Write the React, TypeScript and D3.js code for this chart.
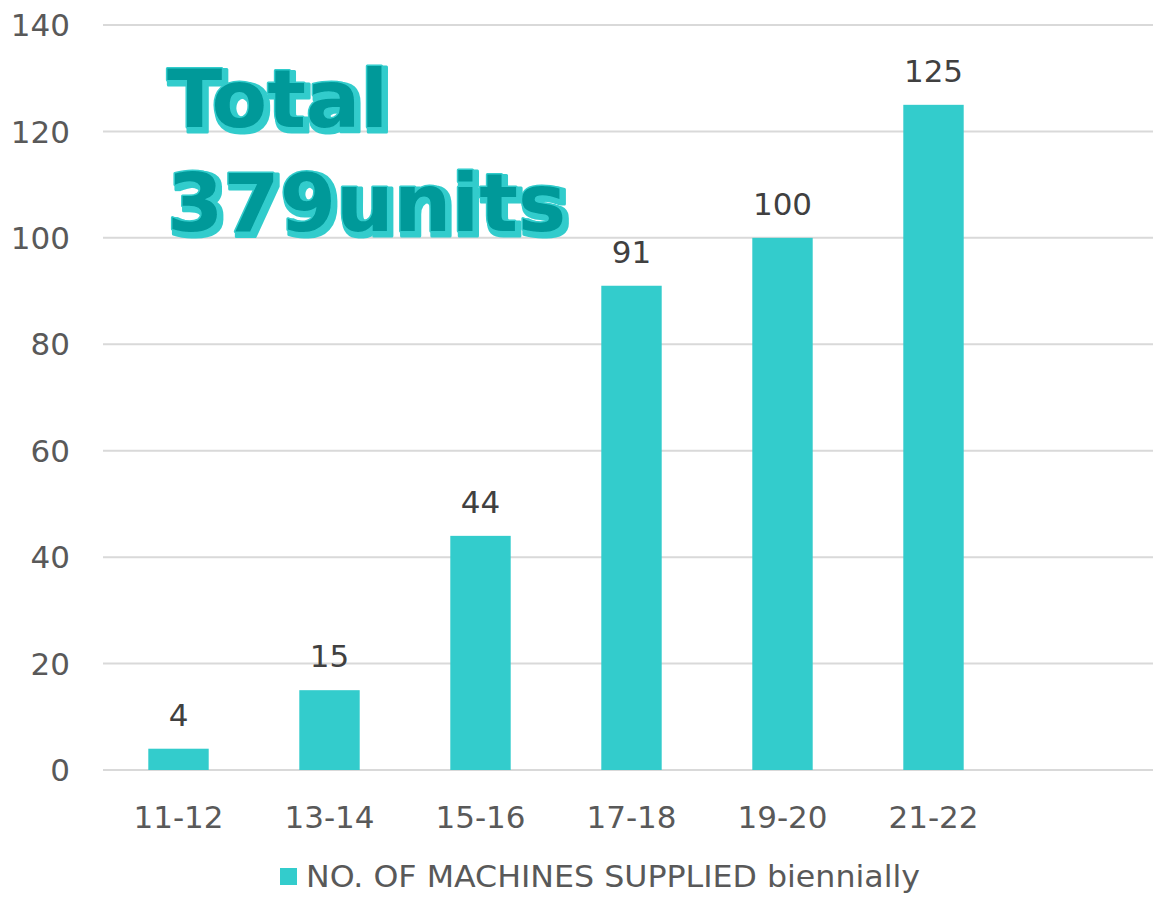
import React from "react";
import * as d3 from "d3";

const categories = ["11-12", "13-14", "15-16", "17-18", "19-20", "21-22", ""];
const values: (number | null)[] = [4, 15, 44, 91, 100, 125, null];
const yTicks = [0, 20, 40, 60, 80, 100, 120, 140];
const legendLabel = "NO. OF MACHINES SUPPLIED biennially";
const titleLines = ["Total", "379units"];

const W = 1153;
const H = 902;
const FONT = "'DejaVu Sans', Verdana, sans-serif";
const FS = 31;

export default function App() {
  const x = d3.scaleBand<string>().domain(categories.map((c, i) => String(i))).range([103, 1160]).paddingInner(0.6).paddingOuter(0.3);
  const y = d3.scaleLinear().domain([0, 140]).range([770, 25]);
  return (
    <svg width={W} height={H} style={{ position: "absolute", left: 0, top: 0, background: "#fff" }} fontFamily={FONT}>
      <defs>
        <filter id="tshadow" x="-10%" y="-20%" width="130%" height="150%">
          <feMorphology in="SourceAlpha" operator="dilate" radius="2" result="dil" />
          <feOffset in="dil" dx="3" dy="3" result="off" />
          <feFlood floodColor="#33CCCC" result="col" />
          <feComposite in="col" in2="off" operator="in" result="shadow" />
          <feMerge>
            <feMergeNode in="shadow" />
            <feMergeNode in="SourceGraphic" />
          </feMerge>
        </filter>
      </defs>
      {yTicks.map((t) => (
        <g key={t}>
          <line x1={103} x2={1153} y1={y(t)} y2={y(t)} stroke="#d9d9d9" strokeWidth={2} />
          <text x={70} y={y(t)} dy="0.36em" textAnchor="end" fontSize={FS} fill="#595959">{t}</text>
        </g>
      ))}
      {values.map((v, i) =>
        v == null ? null : (
          <g key={i}>
            <rect x={x(String(i))!} width={x.bandwidth()} y={y(v)} height={y(0) - y(v)} fill="#33CCCC" />
            <text x={x(String(i))! + x.bandwidth() / 2} y={y(v) - 23} textAnchor="middle" fontSize={FS} fill="#404040">{v}</text>
          </g>
        )
      )}
      {categories.map((c, i) => (
        <text key={i} x={x(String(i))! + x.bandwidth() / 2} y={828} textAnchor="middle" fontSize={FS} fill="#595959">{c}</text>
      ))}
      <rect x={280} y={868} width={17} height={17} fill="#33CCCC" />
      <text x={306} y={887} fontSize={FS} fill="#595959" textLength={614} lengthAdjust="spacingAndGlyphs">{legendLabel}</text>
      <g fontSize={81} fontWeight="bold" filter="url(#tshadow)">
        {titleLines.map((t, i) => (
          <text key={t} x={167} y={127 + i * 104} fill="#009999" stroke="#33CCCC" strokeWidth={3} strokeLinejoin="round" paintOrder="stroke">{t}</text>
        ))}
      </g>
    </svg>
  );
}
